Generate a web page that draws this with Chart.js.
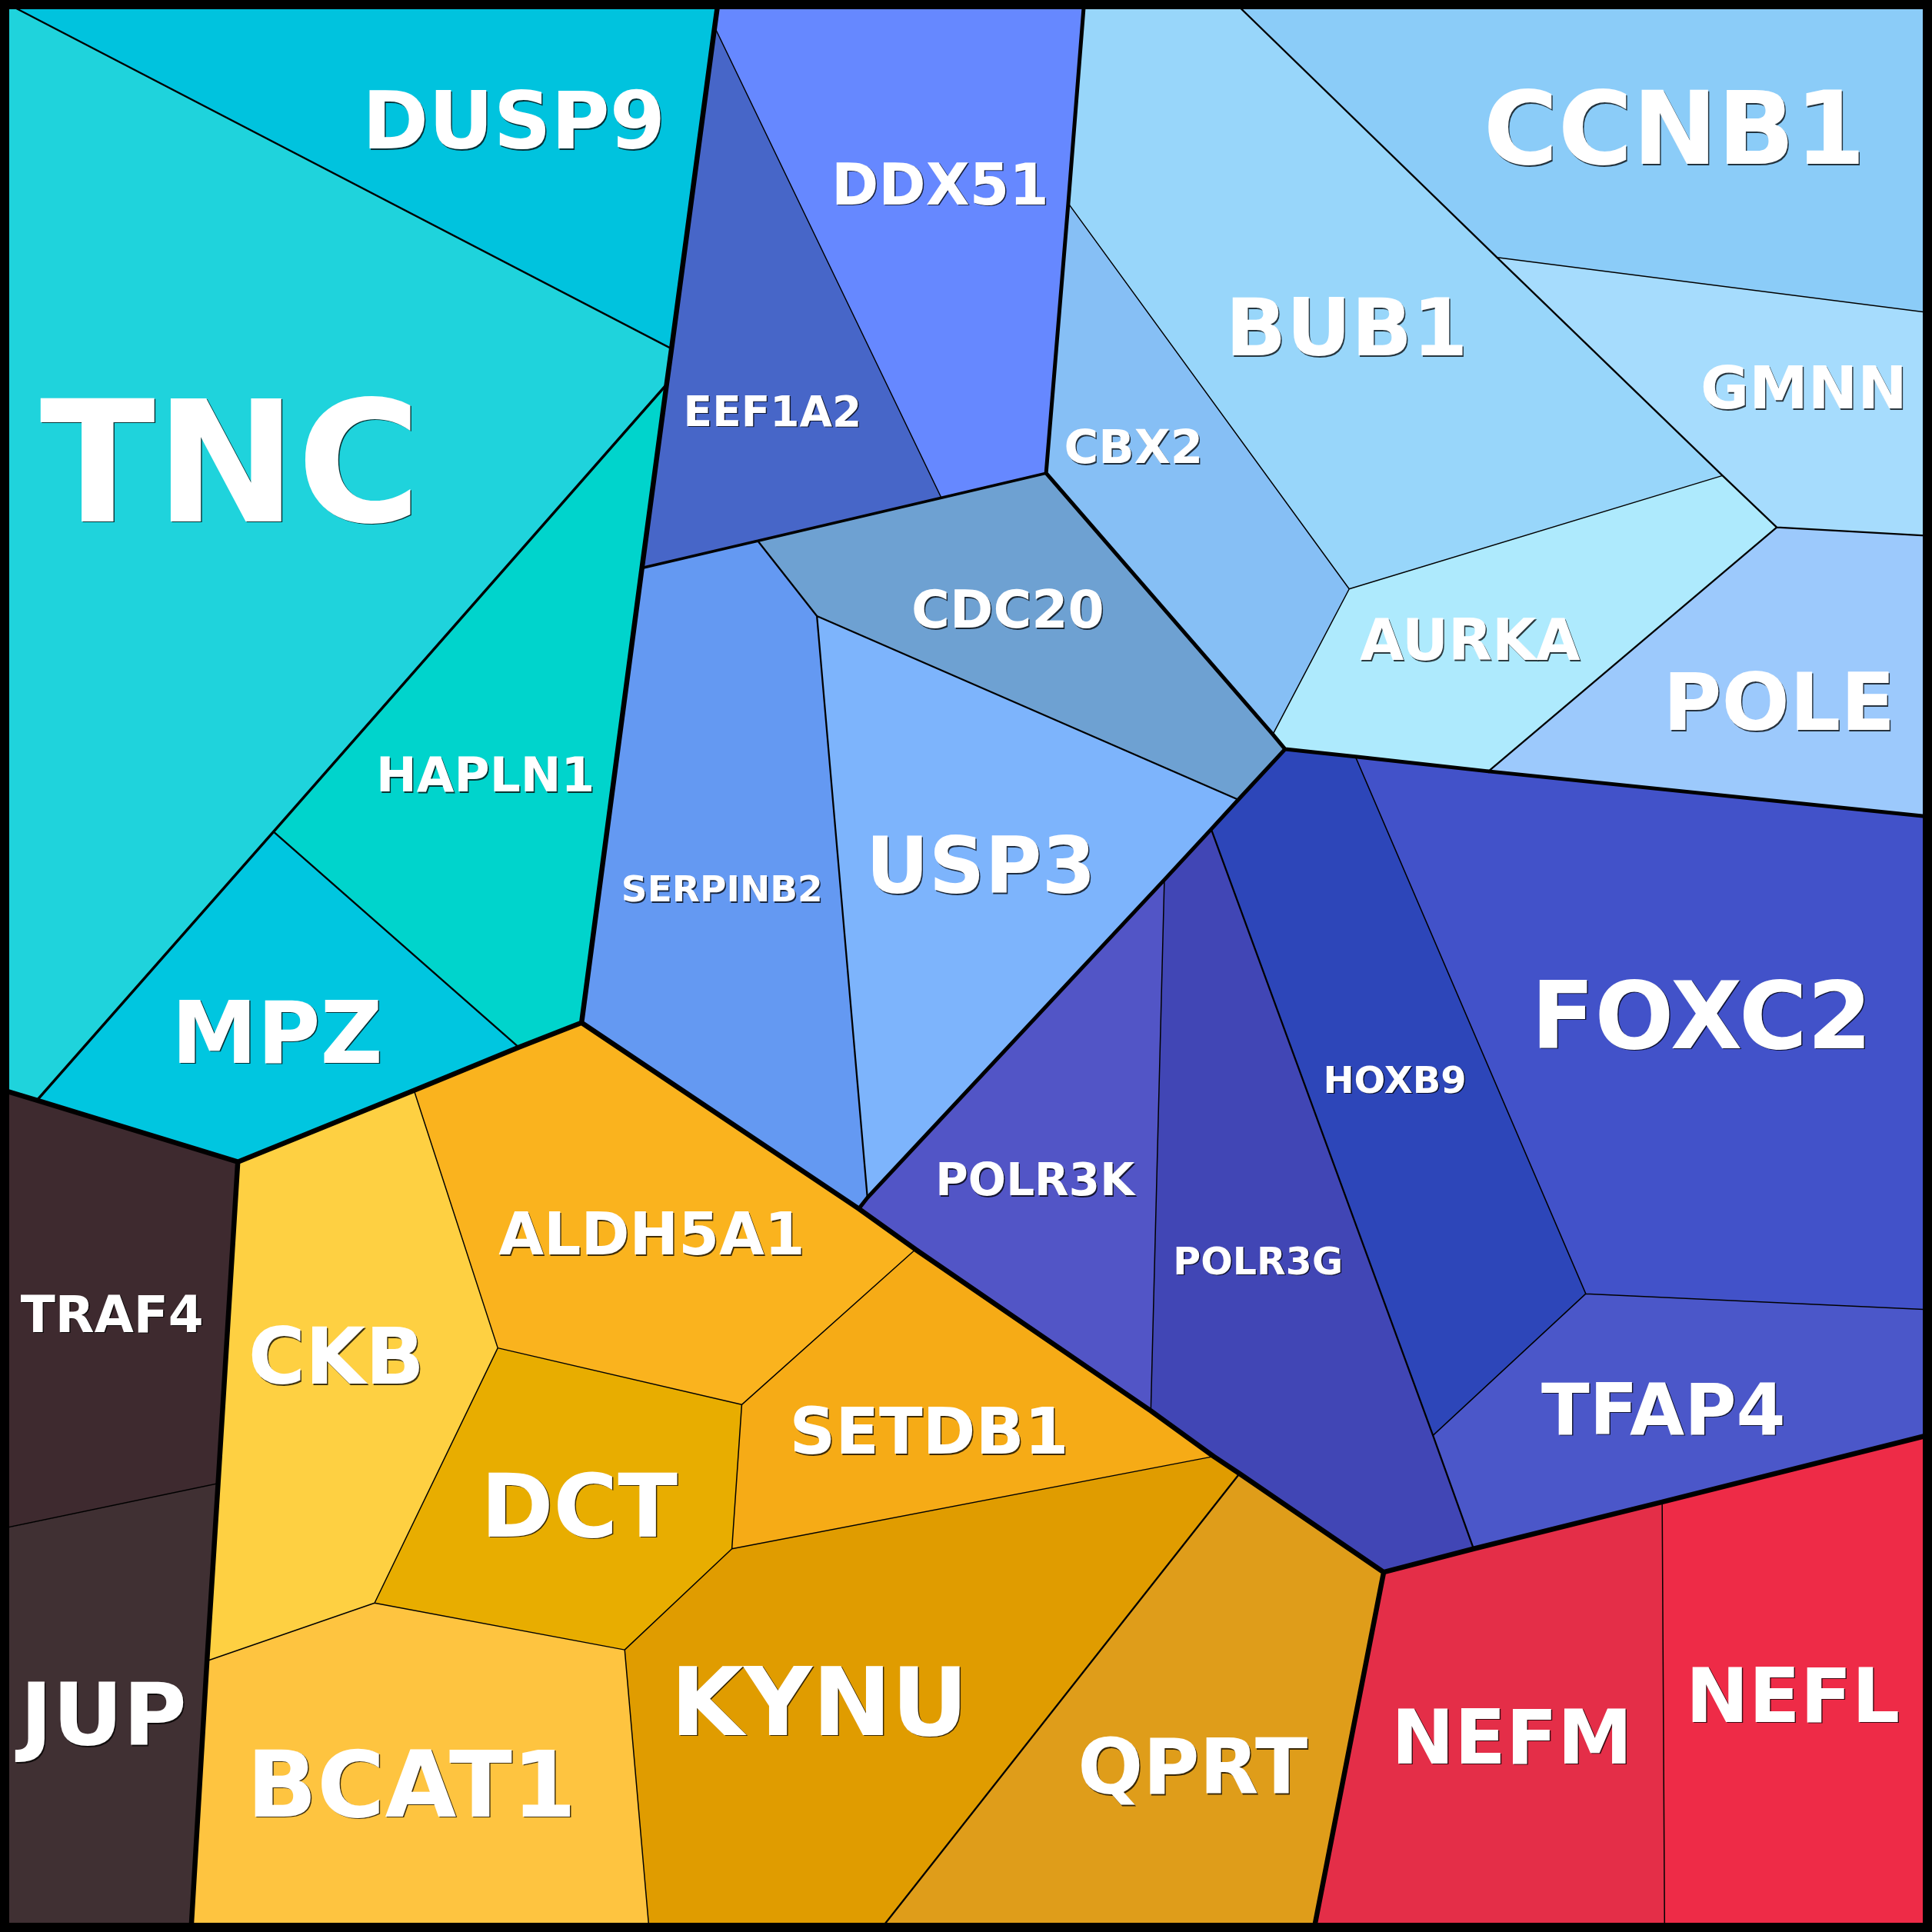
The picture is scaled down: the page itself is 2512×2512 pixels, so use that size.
<!DOCTYPE html>
<html>
<head>
<meta charset="utf-8">
<script src="https://cdn.jsdelivr.net/npm/chart.js@4.4.1/dist/chart.umd.min.js"></script>
<style>
  html, body { margin: 0; padding: 0; background: #fff; }
  #wrap { width: 2512px; height: 2512px; }
</style>
</head>
<body>
<div id="wrap"><canvas id="voronoi"></canvas></div>
<script>
// cell corners (x to the right, y downwards, 0..1568)
const cornerX = [
  0, 583, 880, 1000, 1568, 1568, 1568, 1568, 1568, 1568,   // 0-9
  1568, 1351, 1066, 713, 527, 155, 0, 0, 0, 545,         // 10-19
  541, 222, 30, 421, 472, 193, 521, 580, 764, 849,       // 20-29
  615, 663, 1005, 1043, 704, 697, 1100, 983, 945, 934,   // 30-39
  1163, 1287, 1196, 1123, 867, 1095, 1033, 1398, 1215, 1442, // 40-49
  1208, 336, 404, 602, 743, 985, 1006, 594, 507, 304,    // 50-59
  168, 177, 1349                                         // 60-62
];
const cornerY = [
  0, 0, 0, 0, 0, 254, 435, 663, 1063, 1164,
  1568, 1568, 1568, 1568, 1568, 1568, 1568, 1241, 884, 283,
  312, 675, 893, 850, 830, 943, 461, 22, 404, 384,
  439, 500, 649, 608, 972, 981, 614, 673, 714, 1145,
  1165, 1050, 1257, 1276, 165, 478, 596, 386, 209, 428,
  626, 885, 1094, 1140, 1014, 1182, 1196, 1257, 1339, 1301,
  1348, 1204, 1219
];

const genes = ['TNC', 'DUSP9', 'HAPLN1', 'MPZ', 'TRAF4', 'JUP',
  'CKB', 'ALDH5A1', 'DCT', 'SETDB1', 'KYNU', 'BCAT1', 'QPRT',
  'NEFM', 'NEFL',
  'POLR3K', 'POLR3G', 'HOXB9', 'FOXC2', 'TFAP4',
  'DDX51', 'EEF1A2', 'CDC20', 'SERPINB2', 'USP3',
  'CBX2', 'BUB1', 'CCNB1', 'GMNN', 'AURKA', 'POLE'];

// corner indices of each cell, in ring order
const cellCorners = [
  [0, 19, 20, 21, 22, 18],        // TNC
  [0, 1, 27, 19],                 // DUSP9
  [20, 26, 24, 23, 21],           // HAPLN1
  [21, 23, 51, 25, 22],           // MPZ
  [18, 22, 25, 61, 17],           // TRAF4
  [17, 61, 60, 15, 16],           // JUP
  [25, 51, 52, 59, 60, 61],       // CKB
  [51, 23, 24, 35, 54, 53, 52],   // ALDH5A1
  [52, 53, 57, 58, 59],           // DCT
  [53, 54, 39, 55, 57],           // SETDB1
  [57, 55, 56, 13, 14, 58],       // KYNU
  [59, 58, 14, 15, 60],           // BCAT1
  [56, 43, 12, 13],               // QPRT
  [43, 42, 62, 11, 12],           // NEFM
  [62, 9, 10, 11],                // NEFL
  [35, 34, 38, 39, 54],           // POLR3K
  [38, 37, 40, 42, 43, 56, 55, 39], // POLR3G
  [37, 32, 33, 36, 41, 40],       // HOXB9
  [36, 50, 7, 8, 41],             // FOXC2
  [41, 8, 9, 62, 42, 40],         // TFAP4
  [27, 1, 2, 44, 29, 28],         // DDX51
  [19, 27, 28, 30, 26, 20],       // EEF1A2
  [30, 28, 29, 46, 33, 32, 31],   // CDC20
  [26, 30, 31, 34, 35, 24],       // SERPINB2
  [31, 32, 37, 38, 34],           // USP3
  [44, 45, 46, 29],               // CBX2
  [2, 3, 48, 47, 45, 44],         // BUB1
  [3, 4, 5, 48],                  // CCNB1
  [48, 5, 6, 49, 47],             // GMNN
  [45, 47, 49, 50, 36, 33, 46],   // AURKA
  [49, 6, 7, 50]                  // POLE
];

// nesting of the cells (outer group first)
const cellGroup = [
  'C/c/t', 'C/c/t', 'C/c/h', 'C/c/h', 'W/w/g/a', 'W/w/g/a',
  'Y/y/g/a', 'Y/y/g/a', 'Y/y/g/a', 'Y/y/g/a', 'Y/y/g/a', 'Y/y/g/a', 'Y/y/g/q',
  'R/r/g/a', 'R/r/g/a',
  'B/p/g/k', 'B/p/g/k', 'B/p/g/h', 'B/p/g/h', 'B/p/g/h',
  'B/b/d/e', 'B/b/d/e', 'B/b/u', 'B/b/u', 'B/b/u',
  'B/l/g/y', 'B/l/g/y', 'B/l/g/x', 'B/l/g/x', 'B/l/g/y', 'B/l/g/z'];

const cellColor = [
  '#1fd3dc', '#00c3de', '#00d4cc', '#00c6e0', '#3e2a2f', '#403033',
  '#fed042', '#fab31e', '#e8ad00', '#f6ab16', '#e09c00', '#fec440', '#df9d1a',
  '#e42e48', '#ee2b47',
  '#5255c6', '#4146b5', '#2d46b9', '#4252c9', '#4b57c9',
  '#6688ff', '#4766c8', '#6ea1d2', '#6499f2', '#7db4fc',
  '#86bff5', '#98d6fa', '#8bccf8', '#a6dcfd', '#aeeafd', '#9cc9fc'];

// label anchor of each cell (same units as the corners)
const labelX = [187, 417, 394, 225, 91, 84, 273, 529, 470, 754, 665, 334, 968,
  1227, 1455, 840, 1021, 1132, 1381, 1350, 763, 627, 818, 586, 796,
  920, 1093, 1359, 1464, 1193, 1444];
const labelY = [373, 97, 628, 837, 1066, 1390, 1100, 1001, 1221, 1161, 1380, 1447, 1433,
  1409, 1375, 957, 1023, 876, 823, 1143, 149, 333, 494, 721, 702,
  362, 265, 103, 314, 519, 569];

// styles
const labelFontPx = [220, 104, 63, 112, 66, 113, 101, 76, 114, 83, 123, 120, 100,
  98, 98, 58, 49, 48, 121, 92, 74, 55, 68, 47, 101,
  61, 104, 132, 77, 74, 104];
const levelWidth = [6.5, 5, 3.5, 2.3, 1.5];
const frameWidth = 24;

// collect the edges, each one with the cells on both sides
const edges = new Map();
cellCorners.forEach((ring, c) => {
  ring.forEach((a, k) => {
    const b = ring[(k + 1) % ring.length];
    const key = Math.min(a, b) + '-' + Math.max(a, b);
    if (!edges.has(key)) edges.set(key, { a: a, b: b, cells: [] });
    edges.get(key).cells.push(c);
  });
});

function widthOf(cells) {
  if (cells.length < 2) return frameWidth;
  const p = cellGroup[cells[0]].split('/').concat(genes[cells[0]]);
  const q = cellGroup[cells[1]].split('/').concat(genes[cells[1]]);
  let d = 0;
  while (d < p.length && p[d] === q[d]) d++;
  return levelWidth[Math.min(d, levelWidth.length - 1)];
}

const byWidth = {};
edges.forEach(e => {
  const w = widthOf(e.cells);
  if (!byWidth[w]) byWidth[w] = [];
  byWidth[w].push({ x: cornerX[e.a], y: cornerY[e.a] },
                  { x: cornerX[e.b], y: cornerY[e.b] },
                  { x: cornerX[e.b], y: null });
});

const datasets = genes.map((g, c) => ({
  label: g,
  isCell: true,
  data: cellCorners[c].map(k => ({ x: cornerX[k], y: cornerY[k] })),
  backgroundColor: cellColor[c],
  showLine: false,
  pointRadius: 0,
  pointHoverRadius: 0,
  order: 100
}));

Object.keys(byWidth).forEach(w => {
  datasets.push({
    label: 'edges ' + w,
    data: byWidth[w],
    showLine: true,
    spanGaps: false,
    fill: false,
    borderColor: '#000000',
    borderWidth: +w,
    borderCapStyle: 'round',
    borderJoinStyle: 'round',
    pointRadius: 0,
    pointHoverRadius: 0,
    tension: 0,
    order: -w
  });
});

// fill each cell polygon from the points the scales placed
const cellFill = {
  id: 'cellFill',
  beforeDatasetsDraw(chart) {
    const ctx = chart.ctx;
    ctx.save();
    chart.data.datasets.forEach((ds, i) => {
      if (!ds.isCell) return;
      const pts = chart.getDatasetMeta(i).data;
      ctx.beginPath();
      pts.forEach((p, j) => j ? ctx.lineTo(p.x, p.y) : ctx.moveTo(p.x, p.y));
      ctx.closePath();
      ctx.fillStyle = ds.backgroundColor;
      ctx.fill();
    });
    ctx.restore();
  }
};

const cellLabels = {
  id: 'cellLabels',
  afterDatasetsDraw(chart) {
    const ctx = chart.ctx;
    const sx = chart.scales.x, sy = chart.scales.y;
    ctx.save();
    ctx.textAlign = 'center';
    ctx.textBaseline = 'alphabetic';
    genes.forEach((g, i) => {
      const size = labelFontPx[i];
      ctx.font = 'bold ' + size + 'px "DejaVu Sans"';
      const px = sx.getPixelForValue(labelX[i]);
      const py = sy.getPixelForValue(labelY[i]) + size * 0.729 / 2;
      ctx.fillStyle = 'rgba(0, 0, 0, 0.75)';
      ctx.fillText(g, px + 1.5, py + 1.5);
      ctx.fillStyle = '#ffffff';
      ctx.fillText(g, px, py);
    });
    ctx.restore();
  }
};

new Chart(document.getElementById('voronoi'), {
  type: 'scatter',
  data: { datasets: datasets },
  options: {
    responsive: true,
    maintainAspectRatio: false,
    animation: false,
    events: [],
    layout: { padding: 0 },
    scales: {
      x: { type: 'linear', min: 0, max: 1568, display: false },
      y: { type: 'linear', min: 0, max: 1568, reverse: true, display: false }
    },
    plugins: {
      legend: { display: false },
      tooltip: { enabled: false }
    }
  },
  plugins: [cellFill, cellLabels]
});
</script>
</body>
</html>
